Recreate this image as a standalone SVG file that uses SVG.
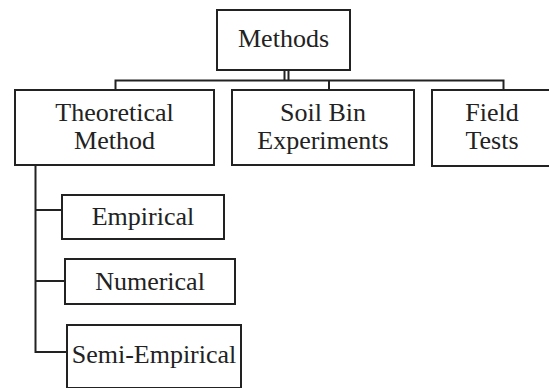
<svg xmlns="http://www.w3.org/2000/svg" width="549" height="388" viewBox="0 0 549 388">
<style>
.box{fill:#fff;stroke:#222;stroke-width:2}
.ln{fill:none;stroke:#222;stroke-width:2}
text{font-size:26px;fill:#222;text-anchor:middle}
</style>
<rect width="549" height="388" fill="#fff"/>
<g id="connectors">
<path class="ln" d="M284.5 70V80.5M288.5 70V80.5"/>
<path class="ln" d="M115.5 90V80.5H503.5V90M329 80.5V90"/>
<path class="ln" d="M35.5 165V352H67M35.5 210H62M35.5 281H65"/>
</g>
<g font-family="'Liberation Serif', 'DejaVu Serif', serif">
<g id="methods"><rect class="box" x="217" y="10" width="133" height="60"/><text x="283.5" y="47">Methods</text></g>
<g id="theoretical"><rect class="box" x="15" y="90" width="199" height="75"/><text x="114.5" y="121">Theoretical</text><text x="114.5" y="149">Method</text></g>
<g id="soilbin"><rect class="box" x="232" y="90" width="182" height="75"/><text x="323" y="121">Soil Bin</text><text x="323" y="149">Experiments</text></g>
<g id="field"><rect class="box" x="432" y="90" width="121" height="76"/><text x="492" y="121">Field</text><text x="492" y="149">Tests</text></g>
<g id="empirical"><rect class="box" x="62" y="195" width="162" height="44"/><text x="143" y="225">Empirical</text></g>
<g id="numerical"><rect class="box" x="65" y="259" width="170" height="45"/><text x="150" y="290">Numerical</text></g>
<g id="semiempirical"><rect class="box" x="67" y="325" width="174" height="63"/><text x="154" y="363">Semi-Empirical</text></g>
</g>
</svg>
